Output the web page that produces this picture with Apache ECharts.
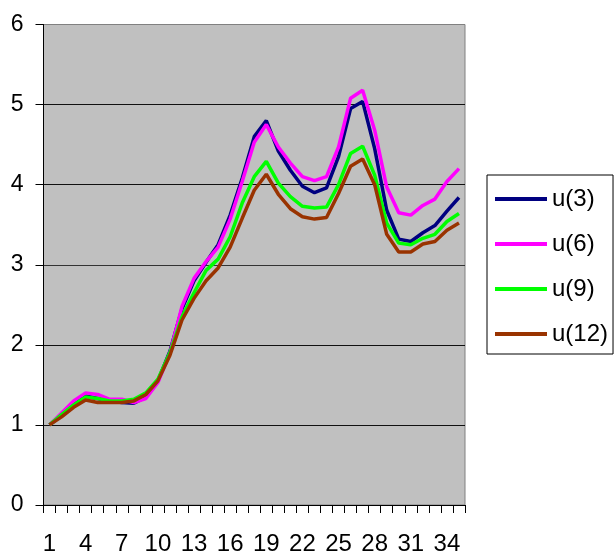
<!DOCTYPE html>
<html>
<head>
<meta charset="utf-8">
<script src="https://cdn.jsdelivr.net/npm/echarts@6/dist/echarts.min.js"></script>
<style>
html,body{margin:0;padding:0;background:#fff;}
#c{width:615px;height:556px;}
</style>
</head>
<body>
<div id="c"></div>
<script>
const categories = ['1','2','3','4','5','6','7','8','9','10','11','12','13','14','15','16','17','18','19','20','21','22','23','24','25','26','27','28','29','30','31','32','33','34','35'];
const u3 = [1.0,1.12,1.25,1.36,1.33,1.30,1.28,1.27,1.35,1.55,1.92,2.45,2.80,3.03,3.25,3.62,4.08,4.60,4.80,4.42,4.18,3.98,3.90,3.96,4.35,4.95,5.04,4.45,3.68,3.32,3.29,3.40,3.49,3.67,3.84];
const u6 = [1.0,1.15,1.30,1.40,1.38,1.32,1.32,1.28,1.33,1.53,1.90,2.48,2.83,3.04,3.22,3.57,4.04,4.53,4.75,4.47,4.27,4.10,4.05,4.10,4.47,5.08,5.18,4.68,3.97,3.65,3.62,3.74,3.82,4.04,4.20];
const u9 = [1.0,1.13,1.25,1.35,1.33,1.30,1.30,1.32,1.40,1.57,1.90,2.35,2.65,2.93,3.07,3.35,3.77,4.10,4.29,4.02,3.85,3.73,3.71,3.72,4.00,4.39,4.48,4.12,3.52,3.27,3.25,3.33,3.38,3.54,3.64];
const u12 = [1.0,1.10,1.22,1.31,1.28,1.28,1.28,1.30,1.38,1.55,1.87,2.31,2.58,2.80,2.96,3.22,3.58,3.93,4.13,3.88,3.70,3.60,3.57,3.59,3.89,4.23,4.32,4.00,3.38,3.16,3.16,3.26,3.29,3.43,3.52];
const seriesNames = ['u(3)','u(6)','u(9)','u(12)'];
const seriesData = [u3,u6,u9,u12];
const colors = ['#000080','#FF00FF','#00FF00','#993300'];

const FONT = 'Liberation Sans, Arial, sans-serif';
const chart = echarts.init(document.getElementById('c'), null, {renderer:'canvas'});
chart.setOption({
  animation:false,
  backgroundColor:'#ffffff',
  color: colors,
  grid:{left:43.5,right:150,top:24.5,bottom:51,show:true,backgroundColor:'#C0C0C0',borderColor:'#808080',borderWidth:1},
  legend:{
    orient:'vertical',left:487,top:175,
    data:seriesNames,
    icon:'rect',itemWidth:52,itemHeight:4,itemGap:21,
    padding:[12,5,8,8],
    backgroundColor:'#ffffff',borderColor:'#000000',borderWidth:1,borderRadius:0,
    textStyle:{fontFamily:FONT,fontSize:24,color:'#000',lineHeight:24}
  },
  xAxis:{
    type:'category',data:categories,boundaryGap:true,
    axisLine:{lineStyle:{color:'#000',width:1}},
    axisTick:{show:true,interval:0,length:8,lineStyle:{color:'#000'}},
    axisLabel:{interval:2,fontFamily:FONT,fontSize:24,color:'#000',margin:27},
    splitLine:{show:false}
  },
  yAxis:{
    type:'value',min:0,max:6,interval:1,
    axisLine:{show:true,lineStyle:{color:'#000',width:1}},
    axisTick:{show:true,length:8,lineStyle:{color:'#000'}},
    axisLabel:{fontFamily:FONT,fontSize:23,color:'#000',margin:20},
    splitLine:{show:true,lineStyle:{color:['#000','#111','#111','#333','#111','#111','#808080'],width:1}}
  },
  series: seriesNames.map((n,i)=>({
    name:n,type:'line',data:seriesData[i],
    symbol:'none',smooth:false,
    lineStyle:{width:3.5,color:colors[i]},
    itemStyle:{color:colors[i]}
  }))
});
</script>
</body>
</html>
